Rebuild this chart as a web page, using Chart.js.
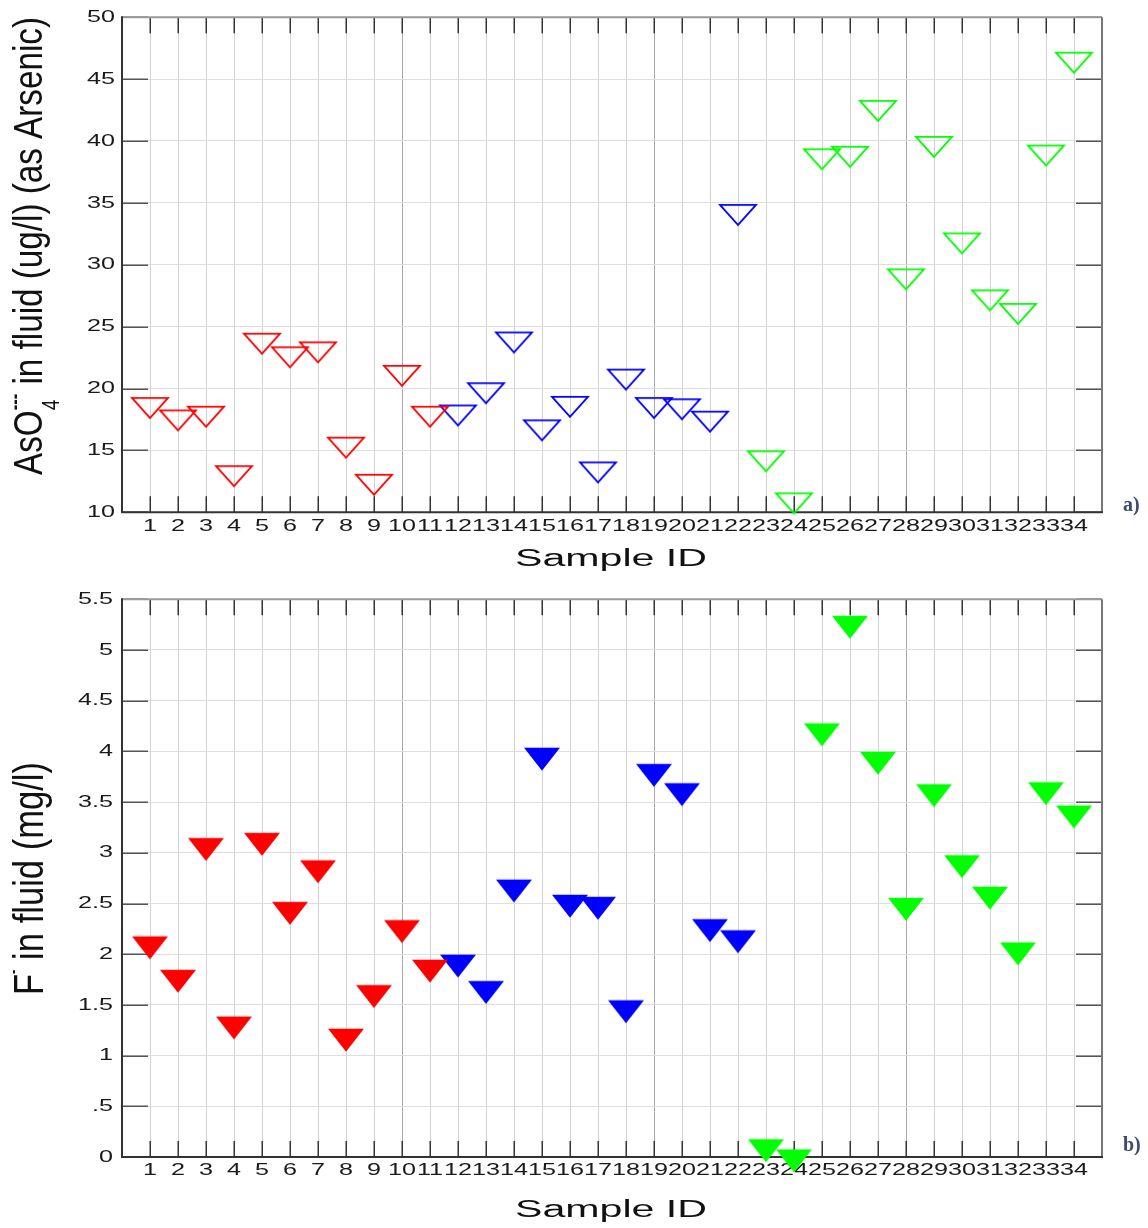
<!DOCTYPE html>
<html><head><meta charset="utf-8">
<script src="https://cdn.jsdelivr.net/npm/chart.js@4.4.0/dist/chart.umd.min.js"></script>
<style>
html,body{margin:0;padding:0;background:#fff;}
#wrap{position:relative;width:1148px;height:1228px;overflow:hidden;background:#fff;}
canvas{position:absolute;left:0;}
#c1{top:0;}
#c2{top:580px;}
</style></head><body>
<div id="wrap">
<canvas id="c1" width="1148" height="580"></canvas>
<canvas id="c2" width="1148" height="648"></canvas>
</div>
<script>
// ---------------- data ----------------
const sampleIds = [1,2,3,4,5,6,7,8,9,10,11,12,13,14,15,16,17,18,19,20,21,22,23,24,25,26,27,28,29,30,31,32,33,34];
const arsenic = [18.7,17.7,18.0,13.2,23.9,22.8,23.2,15.5,12.5,21.3,18.0,18.1,19.9,24.0,16.9,18.8,13.5,21.0,18.7,18.6,17.6,34.3,14.4,11.0,38.8,39.0,42.7,29.1,39.8,32.0,27.4,26.3,39.1,46.6];
const fluoride = [2.10,1.77,3.07,1.31,3.12,2.44,2.85,1.19,1.62,2.26,1.87,1.92,1.66,2.66,3.96,2.51,2.49,1.47,3.80,3.61,2.27,2.16,0.10,0.0,4.20,5.26,3.92,2.48,3.60,2.90,2.59,2.04,3.62,3.39];
const groupLabels = ['Group 1','Group 2','Group 3'];
const groupLastId = [11,22,34];
const groupColors = ['#ff0000','#0000ff','#00ff00'];
const arsenicTickValues = [10,15,20,25,30,35,40,45,50];
const arsenicTickLabels = ['10','15','20','25','30','35','40','45','50'];
const fluorideTickValues = [0,0.5,1,1.5,2,2.5,3,3.5,4,4.5,5,5.5];
const fluorideTickLabels = ['0','.5','1','1.5','2','2.5','3','3.5','4','4.5','5','5.5'];
const xTitle = 'Sample ID';

// ---------------- helpers ----------------
const SANS = '"Liberation Sans", Arial, sans-serif';
function triangleImage(color, w, h, filled){
  const W = Math.ceil(w + 4), H = Math.ceil(4*h/3 + 4);
  const c = document.createElement('canvas'); c.width = W; c.height = H;
  const g = c.getContext('2d');
  const yt = H/2 - h/3, cx = W/2;
  g.beginPath(); g.moveTo(cx - w/2, yt); g.lineTo(cx + w/2, yt); g.lineTo(cx, yt + h); g.closePath();
  if (filled) { g.fillStyle = color; g.fill(); }
  else { g.strokeStyle = color; g.lineWidth = 1.8; g.lineJoin = 'miter'; g.stroke(); }
  return c;
}
function buildDatasets(values, filled, w, h){
  return groupLastId.map((last, gi) => {
    const first = gi ? groupLastId[gi-1] : 0;
    const pts = [];
    sampleIds.forEach((id, i) => { if (id > first && id <= last) pts.push({x: id, y: values[i]}); });
    return {label: groupLabels[gi], data: pts, pointStyle: triangleImage(groupColors[gi], w, h, filled),
            pointRadius: 10, pointHoverRadius: 10, showLine: false, clip: false};
  });
}
function fontOf(s, family){ return (s.weight ? s.weight + ' ' : '') + s.size + 'px ' + family; }
function drawRichRotated(ctx, parts, baseX, startY, endY, family){
  const widths = parts.map(p => {
    const items = p.stack || [p];
    return Math.max(...items.map(s => { ctx.font = fontOf(s, family); return ctx.measureText(s.t).width; }));
  });
  const total = widths.reduce((a,b)=>a+b,0);
  ctx.save();
  ctx.translate(baseX, startY);
  ctx.rotate(-Math.PI/2);
  ctx.scale((startY - endY)/total, 1);
  ctx.fillStyle = '#111'; ctx.textBaseline = 'alphabetic'; ctx.textAlign = 'left';
  let x = 0;
  parts.forEach((p, i) => {
    (p.stack || [p]).forEach(s => { ctx.font = fontOf(s, family); ctx.fillText(s.t, x + (s.dx||0), s.dy||0); });
    x += widths[i];
  });
  ctx.restore();
}
function drawStretched(ctx, text, cx, baseY, size, targetW, family){
  ctx.save();
  ctx.font = size + 'px ' + family;
  const w = ctx.measureText(text).width;
  ctx.translate(cx, baseY); ctx.scale(targetW / w, 1);
  ctx.textAlign = 'center'; ctx.textBaseline = 'alphabetic'; ctx.fillStyle = '#111';
  ctx.fillText(text, 0, 0);
  ctx.restore();
}

// tick labels are drawn by Chart.js; this only widens their glyphs horizontally
const TICK_STRETCH = 1.48;
const framePlugin = {
  id: 'frame',
  beforeDraw(chart){
    const ctx = chart.ctx;
    const proto = Object.getPrototypeOf(ctx).fillText;
    ctx.fillText = function(t, x, y){
      ctx.save(); ctx.translate(x, y); ctx.scale(TICK_STRETCH, 1); proto.call(ctx, t, 0, 0); ctx.restore();
    };
  },
  beforeDatasetsDraw(chart){
    const ctx = chart.ctx, a = chart.chartArea, xs = chart.scales.x, ys = chart.scales.y;
    delete ctx.fillText;
    ctx.save();
    ctx.lineWidth = 1.5; ctx.strokeStyle = '#333';
    ctx.beginPath();
    sampleIds.forEach(id => {
      const px = Math.round(xs.getPixelForValue(id)) + 0.25;
      ctx.moveTo(px, a.top); ctx.lineTo(px, a.top + 16);
      ctx.moveTo(px, a.bottom); ctx.lineTo(px, a.bottom - 16);
    });
    ctx.stroke();
    ctx.strokeStyle = '#555';
    ctx.beginPath();
    chart.options.plugins.frame.yValues.forEach(v => {
      const py = Math.round(ys.getPixelForValue(v)) + 0.25;
      ctx.moveTo(a.left, py); ctx.lineTo(a.left + 26, py);
      ctx.moveTo(a.right, py); ctx.lineTo(a.right - 26, py);
    });
    ctx.stroke();
    ctx.lineWidth = 2;
    ctx.strokeStyle = '#999';
    ctx.beginPath(); ctx.moveTo(a.left, a.top); ctx.lineTo(a.right, a.top); ctx.stroke();
    ctx.strokeStyle = '#777';
    ctx.beginPath(); ctx.moveTo(a.right, a.top); ctx.lineTo(a.right, a.bottom); ctx.stroke();
    ctx.strokeStyle = '#333';
    ctx.beginPath(); ctx.moveTo(a.left, a.top - 1); ctx.lineTo(a.left, a.bottom); ctx.lineTo(a.right + 1, a.bottom); ctx.stroke();
    ctx.restore();
  },
  afterDraw(chart){
    const ctx = chart.ctx, o = chart.options.plugins.frame;
    delete ctx.fillText;
    ctx.save();
    drawRichRotated(ctx, o.yParts, o.yBase, o.yStart, o.yEnd, SANS);
    drawStretched(ctx, xTitle, 611, o.xBase, 23, 192, SANS);
    ctx.font = 'bold 20px "Liberation Serif", "Times New Roman", serif';
    ctx.fillStyle = '#3d4b6b'; ctx.textAlign = 'left'; ctx.textBaseline = 'alphabetic';
    ctx.fillText(o.panel, 1123, o.panelY);
    ctx.restore();
  }
};

function gridColor(c){
  const v = c.tick && c.tick.value;
  return (v === 10 || v === 19 || v === 28) ? '#a9a9a9' : '#d2d2d2';
}

function makeChart(canvas, cfg){
  return new Chart(canvas, {
    type: 'scatter',
    data: {datasets: cfg.datasets},
    options: {
      responsive: false, animation: false, devicePixelRatio: 1,
      layout: {padding: {top: cfg.padTop, right: cfg.padRight, left: 0, bottom: 0}},
      plugins: {
        legend: {display: false}, tooltip: {enabled: false},
        frame: {yValues: cfg.yValues, yParts: cfg.yParts, yBase: cfg.yBase, yStart: cfg.yStart, yEnd: cfg.yEnd,
                xBase: cfg.xBase, panel: cfg.panel, panelY: cfg.panelY}
      },
      scales: {
        x: {
          type: 'linear', min: 0, max: 35,
          afterFit: s => { s.height = cfg.xAxisH; },
          afterBuildTicks: s => { s.ticks = sampleIds.map(v => ({value: v})); },
          grid: {color: gridColor, lineWidth: 1, drawTicks: false},
          border: {display: false},
          ticks: {autoSkip: false, maxRotation: 0, minRotation: 0, padding: 3.5, color: '#1a1a1a',
                  font: {family: SANS, size: 17},
                  callback: (v, i) => String(sampleIds[i])}
        },
        y: {
          type: 'linear', min: cfg.yValues[0], max: cfg.yValues[cfg.yValues.length-1],
          afterFit: s => { s.width = cfg.yAxisW; },
          afterBuildTicks: s => { s.ticks = cfg.yValues.map(v => ({value: v})); },
          grid: {color: '#dedede', lineWidth: 1, drawTicks: false},
          border: {display: false},
          ticks: {padding: cfg.yPad, color: '#1a1a1a', font: {family: SANS, size: 17},
                  callback: (v, i) => cfg.yLabels[i]}
        }
      }
    },
    plugins: [framePlugin]
  });
}

makeChart(document.getElementById('c1'), {
  datasets: buildDatasets(arsenic, false, 36, 20),
  padTop: 16.3, padRight: 46, yAxisW: 122, xAxisH: 580 - 512.3,
  yValues: arsenicTickValues, yLabels: arsenicTickLabels, yPad: 7,
  yParts: [{t: 'AsO', size: 40}, {stack: [{t: '4', size: 23, dy: 17}, {t: '---', size: 20, weight: 'bold', dy: -21}]}, {t: ' in fluid (ug/l) (as Arsenic)', size: 40}],
  yBase: 42, yStart: 475, yEnd: 17, xBase: 566, panel: 'a)', panelY: 511
});
makeChart(document.getElementById('c2'), {
  datasets: buildDatasets(fluoride, true, 36, 23),
  padTop: 19.2, padRight: 46, yAxisW: 122, xAxisH: 648 - 577.1,
  yValues: fluorideTickValues, yLabels: fluorideTickLabels, yPad: 9,
  yParts: [{t: 'F', size: 42}, {stack: [{t: '-', size: 16, weight: 'bold', dy: -25}]}, {t: ' in fluid (mg/l)', size: 42}],
  yBase: 43, yStart: 995 - 580, yEnd: 762 - 580, xBase: 637, panel: 'b)', panelY: 571
});
</script>
</body></html>
